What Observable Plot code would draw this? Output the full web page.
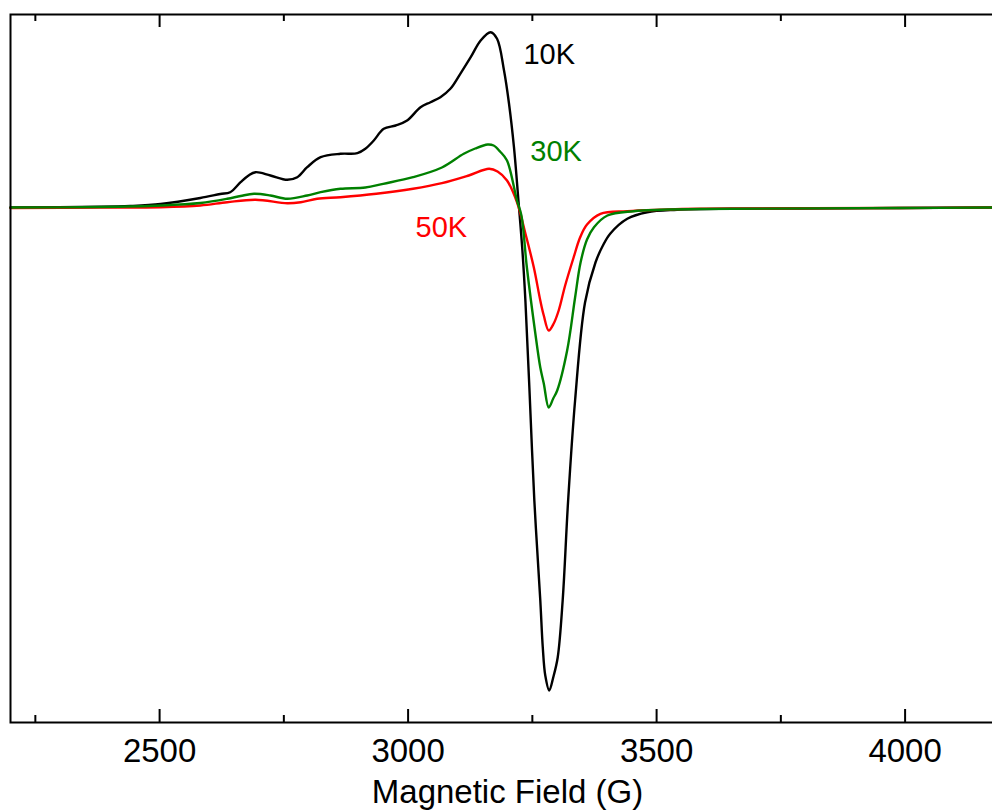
<!DOCTYPE html>
<html>
<head>
<meta charset="utf-8">
<script src="https://cdn.jsdelivr.net/npm/d3@7"></script>
<script src="https://cdn.jsdelivr.net/npm/@observablehq/plot@0.6"></script>
<style>
  html, body { margin: 0; padding: 0; background: #fff; overflow: hidden; }
  #chart svg { max-width: none !important; display: block; }
</style>
</head>
<body>
<div id="chart"></div>
<script>
// ---- Data ----
// Magnetic field (G) and EPR signal (arbitrary units) for each temperature
const field10K = [2200, 2381, 2441, 2502, 2582, 2622, 2642, 2663, 2679, 2693, 2723, 2757, 2777, 2797, 2824, 2864, 2898, 2914, 2931, 2951, 2975, 2998, 3025, 3045, 3065, 3085, 3105, 3126, 3146, 3166, 3179, 3193, 3203, 3213, 3222, 3230, 3236, 3244, 3254, 3266, 3271, 3276, 3284, 3292, 3301, 3311, 3322, 3336, 3356, 3377, 3392, 3407, 3441, 3481, 3541, 3650, 3789, 3990, 4200];
const signal10K = [0, 0.7, 1.5, 3.5, 9.5, 13.5, 15.3, 25.3, 32, 35.3, 32, 27.7, 30.3, 40.3, 50.3, 53.7, 54.3, 58.7, 67, 78.7, 82, 87, 100.3, 105.3, 110.3, 118.7, 133.7, 150.3, 167, 175.3, 168.7, 137, 104, 60.3, 7, -43, -93, -180, -293, -393, -440, -468, -483, -470, -450, -393, -293, -193, -95, -55, -38, -26, -11.3, -4.7, -2.3, -1.3, -1, -0.5, 0];

const field30K = [2200, 2381, 2502, 2582, 2636, 2663, 2690, 2723, 2757, 2797, 2824, 2864, 2914, 2950, 3010, 3068, 3112, 3135, 3160, 3172, 3185, 3199, 3219, 3228, 3239, 3256, 3266, 3273, 3283, 3292, 3300, 3320, 3336, 3347, 3360, 3374, 3401, 3454, 3508, 3588, 3990, 4200];
const signal30K = [0, 0.5, 2, 4.5, 8.7, 11.5, 13.7, 12, 8.7, 12, 15.3, 18.7, 20, 23.7, 30.3, 40, 53.7, 59, 63, 62, 56, 47, 7, -8, -60, -126, -160, -176, -200, -191, -183, -143, -90, -55, -32, -19.7, -8, -3.7, -2.3, -1.5, -0.5, 0];

const field50K = [2200, 2381, 2502, 2582, 2636, 2693, 2757, 2784, 2817, 2864, 2936, 3010, 3068, 3122, 3163, 3180, 3199, 3219, 3236, 3253, 3266, 3273, 3283, 3293, 3303, 3316, 3333, 3346, 3360, 3387, 3441, 3508, 3588, 3990, 4200];
const signal50K = [-0.5, 0, 0.3, 2, 5.3, 7.7, 4.3, 5.3, 8.7, 10.3, 13.7, 18.7, 24.3, 32, 38.7, 36, 27, 5.3, -26, -60, -93, -108, -123, -116, -103, -78, -50, -30, -17, -6.3, -3.7, -2.3, -1.3, -0.5, 0];

// Curve labels
const labelText = ["10K", "30K", "50K"];
const labelField = [3232, 3246, 3015];
const labelSignal = [143.7, 47, -29];

// Axis ticks
const majorTicks = [2500, 3000, 3500, 4000];
const minorTicks = [2250, 2750, 3250, 3750];

// ---- Build tables ----
const colors = {"10K": "#000000", "30K": "#008000", "50K": "#ff0000"};
const series = [
  {name: "10K", F: field10K, S: signal10K},
  {name: "30K", F: field30K, S: signal30K},
  {name: "50K", F: field50K, S: signal50K}
];
const labels = labelText.map((t, i) => ({t, x: labelField[i], y: labelSignal[i]}));

const W = 1004, H = 810, mT = 14, mB = 88;
const frameH = H - mT - mB;
const yDomain = [-515, 193];

const marks = [];
for (const s of [series[0], series[2], series[1]]) {
  const rows = s.F.map((f, i) => ({f, v: s.S[i]}));
  marks.push(Plot.line(rows, {x: "f", y: "v", stroke: colors[s.name], strokeWidth: 2.4, curve: "catmull-rom"}));
}
marks.push(
  Plot.frame({stroke: "#000", strokeWidth: 2}),
  // inward ticks on the bottom edge
  Plot.ruleX(majorTicks, {x: d => d, insetTop: frameH - 13, stroke: "#000", strokeWidth: 2}),
  Plot.ruleX(minorTicks, {x: d => d, insetTop: frameH - 7, stroke: "#000", strokeWidth: 2}),
  // inward ticks on the top edge
  Plot.ruleX(majorTicks, {x: d => d, insetBottom: frameH - 13, stroke: "#000", strokeWidth: 2}),
  Plot.ruleX(minorTicks, {x: d => d, insetBottom: frameH - 7, stroke: "#000", strokeWidth: 2}),
  // tick labels and axis title
  Plot.axisX({ticks: majorTicks, tickSize: 0, tickPadding: 16, tickFormat: d => String(d),
              label: "Magnetic Field (G)", labelAnchor: "center", labelOffset: 80, labelArrow: "none",
              fontSize: 33, fill: "#000"}),
  Plot.text(labels, {x: "x", y: "y", text: "t", textAnchor: "start", lineAnchor: "bottom",
                     fill: d => colors[d.t], fontSize: 29})
);

const chart = Plot.plot({
  width: W, height: H,
  marginLeft: 10, marginRight: 0, marginTop: mT, marginBottom: mB,
  x: {domain: [2200, 4200]},
  y: {domain: yDomain, axis: null},
  style: {fontFamily: "'Liberation Sans', Arial, sans-serif", fontSize: "33px", color: "#000", background: "#fff", maxWidth: "none", overflow: "visible"},
  marks
});
document.getElementById("chart").appendChild(chart);
</script>
</body>
</html>
